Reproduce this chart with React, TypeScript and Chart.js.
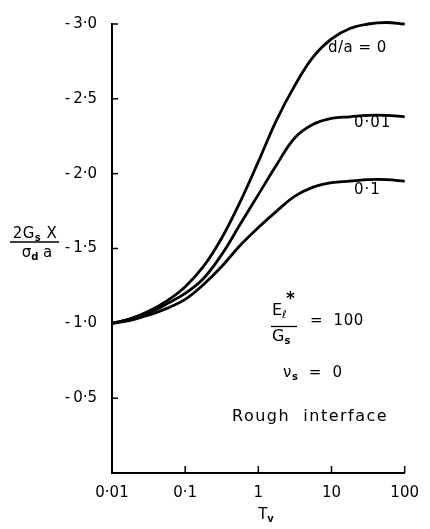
import React, { useEffect, useRef } from 'react';
import { Chart, registerables } from 'chart.js';

Chart.register(...registerables);

// Dimensionless time factor T_v, quarter-decade steps
const tValues = [0.01, 0.0178, 0.0316, 0.0562, 0.1, 0.178, 0.316, 0.562, 1, 1.78, 3.16, 5.62, 10, 17.8, 31.6, 56.2, 100];

// 2 G_s X / (sigma_d a) for each d/a ratio
const curveDa0 = [-1.0, -1.03, -1.08, -1.15, -1.245, -1.38, -1.57, -1.81, -2.08, -2.36, -2.59, -2.78, -2.9, -2.97, -3.0, -3.01, -3.0];
const curveDa001 = [-1.0, -1.03, -1.07, -1.13, -1.2, -1.3, -1.46, -1.66, -1.86, -2.06, -2.24, -2.33, -2.37, -2.38, -2.39, -2.39, -2.38];
const curveDa01 = [-1.0, -1.02, -1.055, -1.1, -1.16, -1.26, -1.38, -1.52, -1.64, -1.75, -1.85, -1.91, -1.94, -1.95, -1.96, -1.96, -1.95];

const xTickValues = [0.01, 0.1, 1, 10, 100];
const xTickLabels = ['0·01', '0·1', '1', '10', '100'];
const yTickValues = [-3, -2.5, -2, -1.5, -1, -0.5];
const yTickLabels = ['-\u20093·0', '-\u20092·5', '-\u20092·0', '-\u20091·5', '-\u20091·0', '-\u20090·5'];

const FONT = '"DejaVu Sans", sans-serif';

type Part = { t: string; size: number; dy?: number; bold?: boolean };

// Draws a run of text pieces (for sub/superscripts) starting at x, centred on y.
function drawRich(
  ctx: CanvasRenderingContext2D,
  parts: Part[],
  x: number,
  y: number,
  align: 'left' | 'center' = 'left',
  spacing = 0,
) {
  const c = ctx as any;
  c.letterSpacing = `${spacing}px`;
  let total = 0;
  for (const p of parts) {
    ctx.font = `${p.bold ? 'bold ' : ''}${p.size}px ${FONT}`;
    total += ctx.measureText(p.t).width;
  }
  let cx = align === 'center' ? x - total / 2 : x;
  ctx.textAlign = 'left';
  ctx.textBaseline = 'middle';
  for (const p of parts) {
    ctx.font = `${p.bold ? 'bold ' : ''}${p.size}px ${FONT}`;
    ctx.fillText(p.t, cx, y + (p.dy || 0));
    cx += ctx.measureText(p.t).width;
  }
  c.letterSpacing = '0px';
  return total;
}

const inwardTicks = {
  id: 'inwardTicks',
  afterDatasetsDraw(chart: any) {
    const { ctx, chartArea, scales } = chart;
    ctx.save();
    ctx.strokeStyle = '#000';
    ctx.lineWidth = 1.5;
    for (const v of yTickValues) {
      const y = scales.y.getPixelForValue(v);
      ctx.beginPath();
      ctx.moveTo(chartArea.left, y);
      ctx.lineTo(chartArea.left + 6, y);
      ctx.stroke();
    }
    for (const v of xTickValues) {
      const x = scales.x.getPixelForValue(v);
      ctx.beginPath();
      ctx.moveTo(x, chartArea.bottom);
      ctx.lineTo(x, chartArea.bottom - 7);
      ctx.stroke();
    }
    ctx.restore();
  },
};

const annotations = {
  id: 'annotations',
  afterDraw(chart: any) {
    const { ctx } = chart;
    ctx.save();
    ctx.fillStyle = '#000';
    ctx.strokeStyle = '#000';

    // y-axis title: 2 G_s X / (sigma_d a)
    drawRich(ctx, [
      { t: '2G', size: 15 },
      { t: 's', size: 10, dy: 4, bold: true },
      { t: ' X', size: 15 },
    ], 35, 234, 'center', 0.5);
    ctx.lineWidth = 1.3;
    ctx.beginPath();
    ctx.moveTo(10, 242);
    ctx.lineTo(59, 242);
    ctx.stroke();
    drawRich(ctx, [
      { t: 'σ', size: 15 },
      { t: 'd', size: 10, dy: 4, bold: true },
      { t: ' a', size: 15 },
    ], 37, 253, 'center');

    // x-axis title: T_v
    drawRich(ctx, [
      { t: 'T', size: 15 },
      { t: 'v', size: 10, dy: 4, bold: true },
    ], 266, 515, 'center');

    // curve labels
    drawRich(ctx, [{ t: 'd/a = 0', size: 15 }], 328, 48, 'left', 0.5);
    drawRich(ctx, [{ t: '0·01', size: 15 }], 354, 123, 'left', 1);
    drawRich(ctx, [{ t: '0·1', size: 15 }], 354, 190, 'left', 1);

    // E_l* / G_s = 100
    drawRich(ctx, [
      { t: 'E', size: 16 },
      { t: 'ℓ', size: 11, dy: 4 },
    ], 272, 311);
    drawRich(ctx, [{ t: '*', size: 17, bold: true }], 286, 300);
    ctx.beginPath();
    ctx.moveTo(271, 326.5);
    ctx.lineTo(297, 326.5);
    ctx.stroke();
    drawRich(ctx, [
      { t: 'G', size: 16 },
      { t: 's', size: 10, dy: 4, bold: true },
    ], 272, 337);
    drawRich(ctx, [{ t: '=  100', size: 15 }], 310, 321, 'left', 0.5);

    // nu_s = 0
    drawRich(ctx, [
      { t: 'ν', size: 15 },
      { t: 's', size: 10, dy: 4, bold: true },
      { t: '  =  0', size: 15 },
    ], 283, 373, 'left', 0.5);

    drawRich(ctx, [{ t: 'Rough  interface', size: 16 }], 232, 417, 'left', 1.5);

    ctx.restore();
  },
};

export default function App() {
  const canvasRef = useRef<HTMLCanvasElement | null>(null);

  useEffect(() => {
    if (!canvasRef.current) return;
    const line = (data: number[]) => ({
      data: tValues.map((t, i) => ({ x: t, y: data[i] })),
      borderColor: '#000',
      borderWidth: 2.8,
      pointRadius: 0,
      fill: false,
      tension: 0.4,
      clip: 4,
    });

    const chart = new Chart(canvasRef.current, {
      type: 'line',
      data: {
        datasets: [line(curveDa0), line(curveDa001), line(curveDa01)],
      },
      options: {
        animation: false,
        responsive: false,
        layout: { padding: { top: 15, right: 18, left: 0, bottom: 0 } },
        plugins: { legend: { display: false }, tooltip: { enabled: false } },
        scales: {
          x: {
            type: 'logarithmic',
            min: 0.01,
            max: 100,
            afterBuildTicks: (scale: any) => {
              scale.ticks = xTickValues.map((v) => ({ value: v }));
            },
            afterFit: (scale: any) => {
              scale.height = 56;
            },
            grid: { display: false, drawTicks: false },
            border: { display: true, color: '#000', width: 2 },
            ticks: {
              autoSkip: false,
              maxRotation: 0,
              padding: 11,
              color: '#000',
              font: { family: FONT, size: 15 },
              callback: (value: any) => {
                const i = xTickValues.findIndex((v) => Math.abs(v - Number(value)) < 1e-9);
                return i >= 0 ? xTickLabels[i] : '';
              },
            },
          },
          y: {
            type: 'linear',
            reverse: true,
            min: -3,
            max: 0,
            afterBuildTicks: (scale: any) => {
              scale.ticks = yTickValues.map((v) => ({ value: v }));
            },
            afterFit: (scale: any) => {
              scale.width = 112;
            },
            grid: { display: false, drawTicks: false },
            border: { display: true, color: '#000', width: 2 },
            ticks: {
              autoSkip: false,
              padding: 15,
              color: '#000',
              font: { family: FONT, size: 15 },
              callback: (value: any) => {
                const i = yTickValues.findIndex((v) => Math.abs(v - Number(value)) < 1e-9);
                return i >= 0 ? yTickLabels[i] : '';
              },
            },
          },
        },
      },
      plugins: [inwardTicks, annotations],
    });

    return () => chart.destroy();
  }, []);

  return (
    <div style={{ position: 'fixed', left: 0, top: 0, width: 430, height: 529, background: '#fff' }}>
      <canvas ref={canvasRef} width={430} height={529} style={{ display: 'block' }} />
    </div>
  );
}
